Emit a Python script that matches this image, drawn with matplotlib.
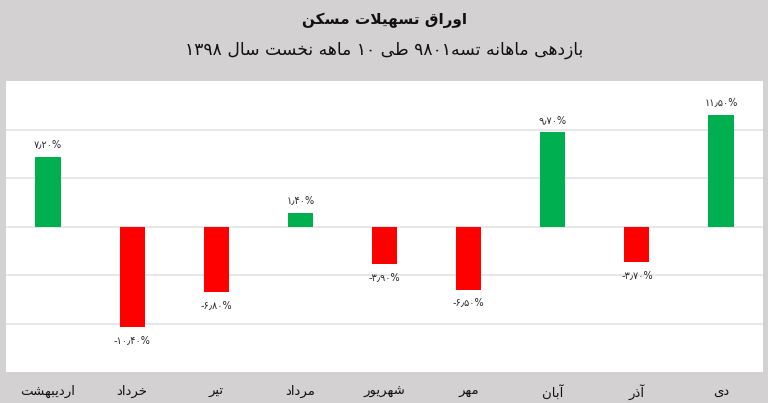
import matplotlib
matplotlib.use('Agg')
import matplotlib.pyplot as plt

# داده ها
months = ['اردیبهشت', 'خرداد', 'تیر', 'مرداد', 'شهریور', 'مهر', 'آبان', 'آذر', 'دی']
returns = [7.20, -10.40, -6.80, 1.40, -3.90, -6.50, 9.70, -3.70, 11.50]
title = 'اوراق تسهیلات مسکن'
subtitle = 'بازدهی ماهانه تسه۹۸۰۱ طی ۱۰ ماهه نخست سال ۱۳۹۸'

# شکل های حروف: منفرد، پایانی، آغازی، میانی
FORMS = {
    'ا': (0xFE8D, 0xFE8E, None, None), 'آ': (0xFE81, 0xFE82, None, None),
    'ب': (0xFE8F, 0xFE90, 0xFE91, 0xFE92), 'پ': (0xFB56, 0xFB57, 0xFB58, 0xFB59),
    'ت': (0xFE95, 0xFE96, 0xFE97, 0xFE98), 'ث': (0xFE99, 0xFE9A, 0xFE9B, 0xFE9C),
    'ج': (0xFE9D, 0xFE9E, 0xFE9F, 0xFEA0), 'چ': (0xFB7A, 0xFB7B, 0xFB7C, 0xFB7D),
    'ح': (0xFEA1, 0xFEA2, 0xFEA3, 0xFEA4), 'خ': (0xFEA5, 0xFEA6, 0xFEA7, 0xFEA8),
    'د': (0xFEA9, 0xFEAA, None, None), 'ذ': (0xFEAB, 0xFEAC, None, None),
    'ر': (0xFEAD, 0xFEAE, None, None), 'ز': (0xFEAF, 0xFEB0, None, None),
    'ژ': (0xFB8A, 0xFB8B, None, None),
    'س': (0xFEB1, 0xFEB2, 0xFEB3, 0xFEB4), 'ش': (0xFEB5, 0xFEB6, 0xFEB7, 0xFEB8),
    'ص': (0xFEB9, 0xFEBA, 0xFEBB, 0xFEBC), 'ض': (0xFEBD, 0xFEBE, 0xFEBF, 0xFEC0),
    'ط': (0xFEC1, 0xFEC2, 0xFEC3, 0xFEC4), 'ظ': (0xFEC5, 0xFEC6, 0xFEC7, 0xFEC8),
    'ع': (0xFEC9, 0xFECA, 0xFECB, 0xFECC), 'غ': (0xFECD, 0xFECE, 0xFECF, 0xFED0),
    'ف': (0xFED1, 0xFED2, 0xFED3, 0xFED4), 'ق': (0xFED5, 0xFED6, 0xFED7, 0xFED8),
    'ک': (0xFB8E, 0xFB8F, 0xFB90, 0xFB91), 'گ': (0xFB92, 0xFB93, 0xFB94, 0xFB95),
    'ل': (0xFEDD, 0xFEDE, 0xFEDF, 0xFEE0), 'م': (0xFEE1, 0xFEE2, 0xFEE3, 0xFEE4),
    'ن': (0xFEE5, 0xFEE6, 0xFEE7, 0xFEE8), 'ه': (0xFEE9, 0xFEEA, 0xFEEB, 0xFEEC),
    'و': (0xFEED, 0xFEEE, None, None), 'ی': (0xFBFC, 0xFBFD, 0xFBFE, 0xFBFF),
}


def joins_next(ch):
    return ch in FORMS and FORMS[ch][2] is not None


def fa(text):
    # شکل دادن حروف و راست به چپ کردن متن
    out = []
    i = 0
    while i < len(text):
        ch = text[i]
        prev = text[i - 1] if i > 0 else ''
        if ch not in FORMS:
            out.append(ch)
            i += 1
            continue
        pj = joins_next(prev)
        if ch == 'ل' and i + 1 < len(text) and text[i + 1] == 'ا':
            out.append(chr(0xFEFC if pj else 0xFEFB))
            i += 2
            continue
        nxt = text[i + 1] if i + 1 < len(text) else ''
        nj = joins_next(ch) and nxt in FORMS
        f = FORMS[ch]
        if pj and nj:
            code = f[3]
        elif pj:
            code = f[1]
        elif nj:
            code = f[2]
        else:
            code = f[0]
        out.append(chr(code))
        i += 1
    # ارقام چپ به راست می مانند
    runs = []
    for ch in out:
        isd = ch.isdigit()
        if runs and runs[-1][0] == isd:
            runs[-1][1].append(ch)
        else:
            runs.append([isd, [ch]])
    res = ''
    for isd, chars in reversed(runs):
        res += ''.join(chars) if isd else ''.join(reversed(chars))
    return res


def fa_num(v):
    s = f'{v:.2f}'
    digits = '۰۱۲۳۴۵۶۷۸۹'
    s = ''.join(digits[int(c)] if c.isdigit() else c for c in s)
    return s.replace('.', '٫') + '%'


plt.rcParams['font.family'] = ['DejaVu Sans']

bg = '#d3d1d2'
fig = plt.figure(figsize=(7.68, 4.03), dpi=100, facecolor=bg)
ax = fig.add_axes([6 / 768, 1 - 372 / 403, 757 / 768, 291 / 403])
ax.set_facecolor('white')

x = list(range(len(months)))
colors = ['#00b050' if v >= 0 else '#ff0000' for v in returns]
ax.bar(x, returns, width=0.3, color=colors, zorder=3)

for xi, v in zip(x, returns):
    off = 9 if v >= 0 else -9
    ax.annotate(fa_num(v), (xi, v), xytext=(0, off), textcoords='offset points',
                ha='center', va='center', fontsize=7, color='#2a2a2a')

ax.set_xlim(-0.5, len(months) - 0.5)
ax.set_ylim(-15, 15)
ax.set_yticks([-10, -5, 0, 5, 10])
ax.yaxis.grid(True, color='#e3e3e3', linewidth=1.2, zorder=0)
ax.tick_params(axis='y', left=False, labelleft=False)
ax.set_xticks(x)
ax.set_xticklabels([fa(m) for m in months], fontsize=9.5, color='#111111')
ax.tick_params(axis='x', length=0, pad=9)
for s in ax.spines.values():
    s.set_visible(False)

fig.text(0.5, 1 - 20 / 403, fa(title), ha='center', va='center',
         fontsize=11, fontweight='bold', color='#111111')
fig.text(0.5, 1 - 50 / 403, fa(subtitle), ha='center', va='center',
         fontsize=12.3, color='#111111')

fig.savefig('out.png', dpi=100, facecolor=bg)
